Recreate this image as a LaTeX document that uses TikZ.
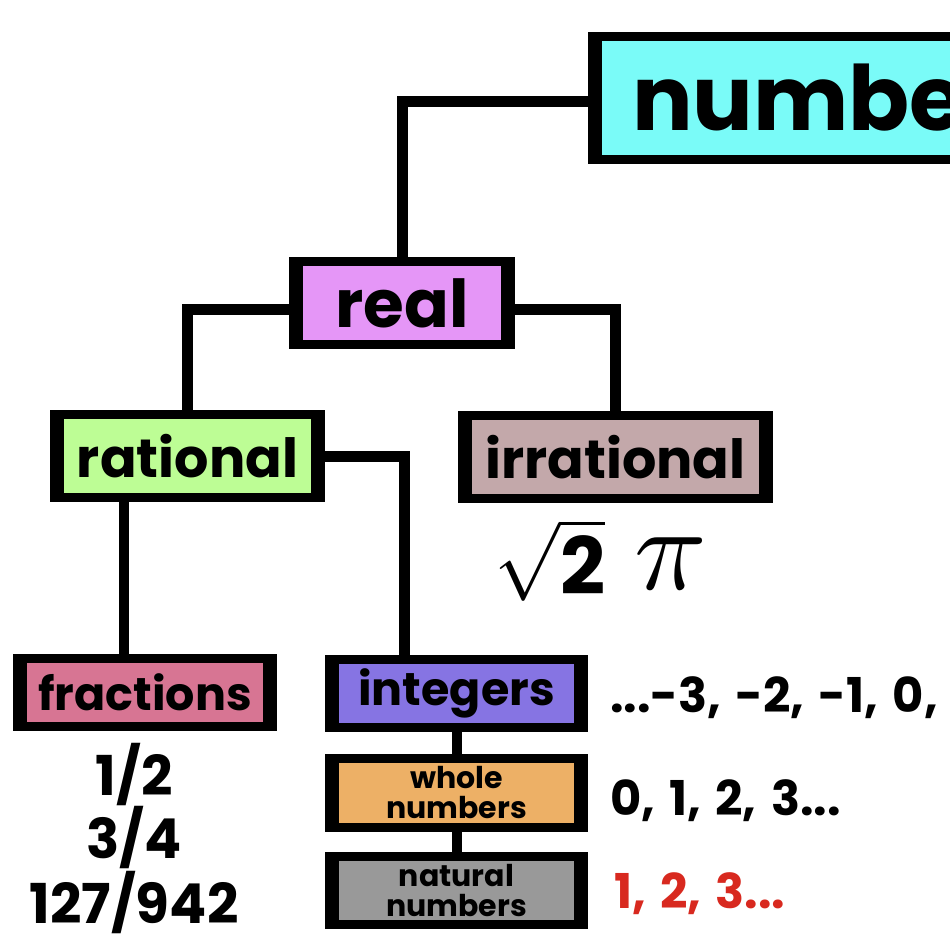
\documentclass[tikz,border=0pt]{standalone}
\usepackage{fontspec}
\setmainfont{Poppins}
\newfontfamily\seqfont{Poppins}[WordSpace=1.4]
\definecolor{cnum}{HTML}{7AFBF8}
\definecolor{creal}{HTML}{E596F7}
\definecolor{crat}{HTML}{BDFD95}
\definecolor{cirr}{HTML}{C3A8AA}
\definecolor{cfrac}{HTML}{D77593}
\definecolor{cint}{HTML}{8674E3}
\definecolor{cwhole}{HTML}{EDB066}
\definecolor{cnat}{HTML}{999999}
\definecolor{cred}{HTML}{D8291F}
\tikzset{
  box/.style={fill=black, inner sep=0pt, outer sep=0pt, align=center,
    path picture={\fill[#1] ([shift={(14pt,-9pt)}]path picture bounding box.north west) rectangle ([shift={(-14pt,9pt)}]path picture bounding box.south east);}},
  conn/.style={line width=11pt, draw=black},
  connsm/.style={line width=10pt, draw=black},
  fs/.style={font=\fontsize{#1}{#1}\selectfont\bfseries},
  seq/.style={anchor=base west, inner sep=0pt, font=\seqfont\fontsize{48}{48}\selectfont\bfseries},
  fracl/.style={anchor=base, inner sep=0pt, font=\fontsize{55}{55}\selectfont\bfseries}
}
\begin{document}
\begin{tikzpicture}[x=1pt,y=-1pt]
\useasboundingbox (0,0) rectangle (950,950);
\fill[white] (0,0) rectangle (950,950);
% boxes
\node[box=cnum, anchor=west, minimum height=132pt, inner xsep=44pt, fs=90] (numbers) at (588,98) {numbers};
\node[box=creal, minimum width=226pt, minimum height=92pt, fs=66] (real) at (402,303) {real};
\node[box=crat, minimum width=275pt, minimum height=92pt, fs=54] (rational) at (187.5,456) {rational};
\node[box=cirr, minimum width=315pt, minimum height=92pt, fs=54] (irrational) at (615.5,457) {irrational};
\node[box=cfrac, minimum width=264pt, minimum height=77pt, fs=46] (fractions) at (145,692.5) {fractions};
\node[box=cint, minimum width=263pt, minimum height=77pt, fs=46] (integers) at (456.5,693.5) {integers};
\node[box=cwhole, minimum width=263pt, minimum height=78pt, font=\fontsize{30}{30}\selectfont\bfseries] (whole) at (456.5,793) {whole\\numbers};
\node[box=cnat, minimum width=263pt, minimum height=77pt, font=\fontsize{30}{30}\selectfont\bfseries] (natural) at (456.5,890.5) {natural\\numbers};
% connectors
\draw[conn] ([yshift=-3pt]numbers.west) -| (real.north);
\draw[conn] ([yshift=-6pt]real.west) -| (rational.north);
\draw[conn] ([yshift=-6pt]real.east) -| (irrational.north);
\draw[conn] (rational.east) -| ([xshift=-52pt]integers.north);
\draw[connsm] ([xshift=-64pt]rational.south) -- ([xshift=-64pt]rational.south |- fractions.north);
\draw[connsm] (integers.south) -- (whole.north);
\draw[connsm] (whole.south) -- (natural.north);
% irrational examples
\node[inner sep=0pt] (sqrttwo) at (550,560) {\scalebox{7.9}{$\sqrt{\mbox{\bfseries 2}}$}};
\node[inner sep=0pt] (pi) at (671,564) {\scalebox{12}{$\pi$}};
% sequences
\node[seq] (intseq) at (610,712) {...-3, -2, -1, 0,};
\node[seq] (wholeseq) at (610,815) {0, 1, 2, 3...};
\node[seq, text=cred] (natseq) at (614,908) {1, 2, 3...};
% fractions
\node[fracl] (f1) at (134,795) {1/2};
\node[fracl] (f2) at (134,858) {3/4};
\node[fracl] (f3) at (134,923) {127/942};
\end{tikzpicture}
\end{document}
